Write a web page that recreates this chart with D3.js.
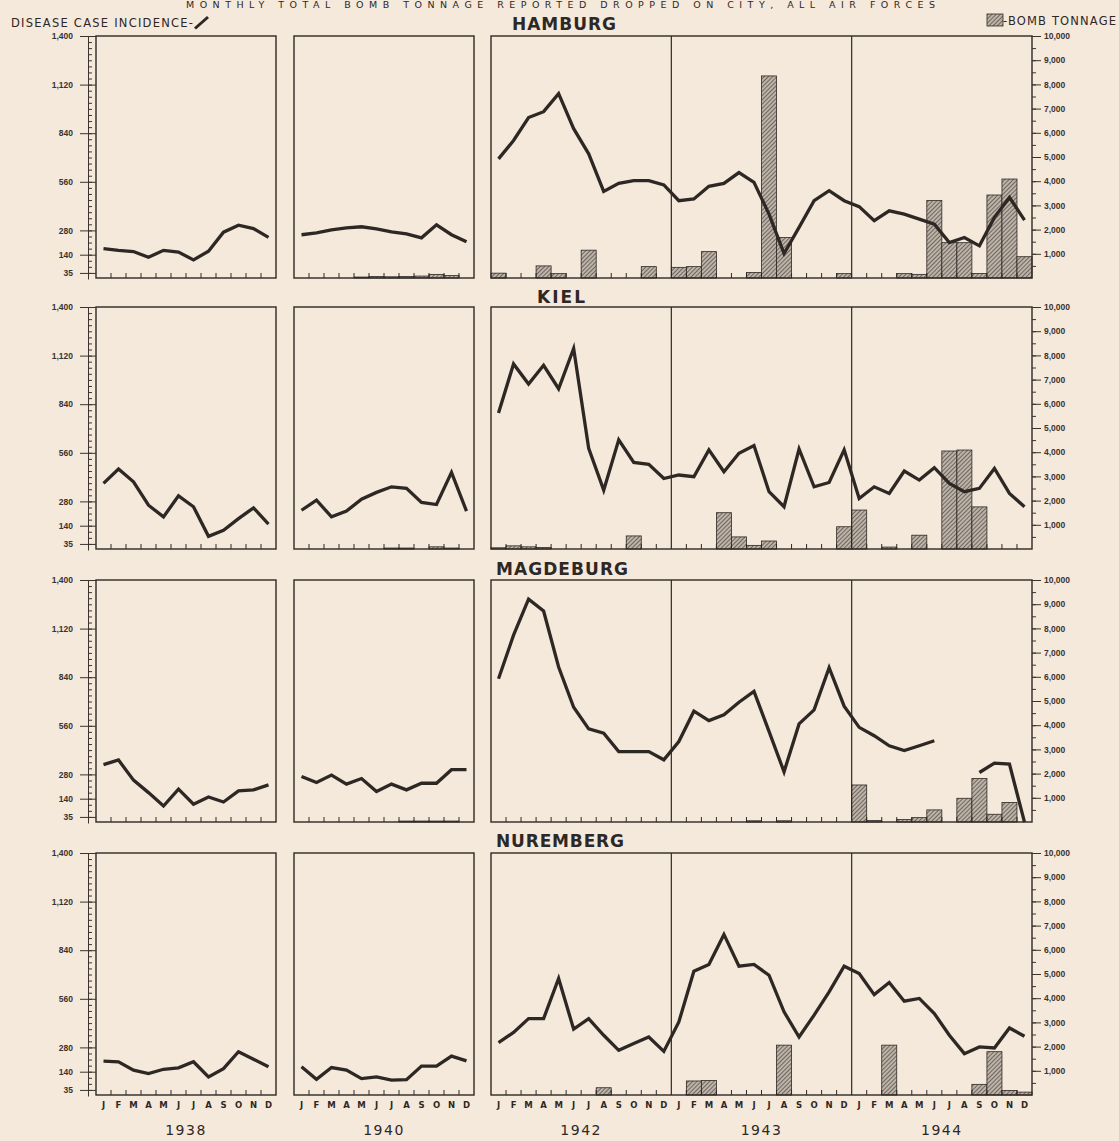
<!DOCTYPE html>
<html>
<head>
<meta charset="utf-8">
<title>Disease case incidence and bomb tonnage</title>
<script src="https://cdn.jsdelivr.net/npm/d3@7"></script>
<style>
html, body { margin: 0; padding: 0; background: #f5e9dc; }
svg { display: block; }
.lbl { font-family: "DejaVu Sans", sans-serif; fill: #2e2824; }
.tick text { font-family: "Liberation Sans", sans-serif; font-size: 8.5px; font-weight: bold; fill: #3a332e; }
.tick line, .domain { stroke: #3a332e; }
</style>
</head>
<body>
<script>
// ---- data ----
const cities = ['HAMBURG', 'KIEL', 'MAGDEBURG', 'NUREMBERG'];
const monthLetters = ['J', 'F', 'M', 'A', 'M', 'J', 'J', 'A', 'S', 'O', 'N', 'D'];
const yearLabels = ['1938', '1940', '1942', '1943', '1944'];
const incidenceTicks = [35, 140, 280, 560, 840, 1120, 1400];
const tonnageTicks = [1000, 2000, 3000, 4000, 5000, 6000, 7000, 8000, 9000, 10000];

const hamburg1938 = [175, 165, 158, 125, 165, 155, 110, 160, 270, 310, 290, 240];
const hamburg1940 = [255, 266, 283, 295, 301, 289, 272, 260, 237, 312, 255, 214];
const hamburg1942to44 = [692, 798, 930, 964, 1068, 866, 721, 505, 551, 567, 567, 542,
                         451, 461, 534, 551, 613, 557, 374, 147, 297, 451, 509, 451,
                         417, 336, 393, 374, 345, 316, 210, 239, 191, 355, 470, 339];
const hamburgBombs1940 = [0, 0, 0, 0, 40, 60, 50, 60, 80, 150, 100, 0];
const hamburgBombs1942to44 = [200, 0, 0, 500, 180, 0, 1150, 0, 0, 0, 470, 0,
                              440, 470, 1090, 0, 0, 230, 8350, 1670, 0, 0, 0, 180,
                              0, 0, 0, 180, 150, 3200, 1460, 1460, 190, 3430, 4090, 880];

const kiel1938 = [384, 467, 393, 258, 191, 312, 249, 79, 114, 181, 243, 149];
const kiel1940 = [229, 287, 191, 224, 293, 332, 364, 355, 274, 262, 447, 224];
const kiel1942to44 = [789, 1072, 956, 1064, 929, 1161, 586, 345, 635, 505, 494, 412,
                      432, 422, 577, 451, 557, 602, 336, 249, 582, 364, 389, 577,
                      297, 364, 326, 455, 403, 474, 384, 336, 355, 470, 326, 249];
const kielBombs1940 = [0, 0, 0, 0, 0, 0, 40, 40, 0, 90, 40, 0];
const kielBombs1942to44 = [50, 130, 90, 60, 0, 0, 0, 0, 0, 540, 0, 0,
                           0, 0, 0, 1500, 500, 150, 330, 0, 0, 0, 0, 920,
                           1610, 0, 80, 0, 570, 0, 4050, 4090, 1740, 0, 0, 0];

const magdeburg1938 = [336, 363, 247, 175, 98, 195, 108, 150, 121, 185, 191, 220];
const magdeburg1940 = [268, 233, 276, 224, 256, 181, 224, 191, 229, 229, 307, 308];
const magdeburg1942to44 = [831, 1082, 1290, 1221, 899, 667, 542, 517, 411, 411, 411, 364,
                           469, 644, 590, 623, 696, 758, 528, 295, 571, 652, 895, 673,
                           551, 503, 445, 417, 445, 474, null, null, 291, 345, 339, 5];
const magdeburgBombs1940 = [0, 0, 0, 0, 0, 0, 0, 40, 40, 40, 40, 0];
const magdeburgBombs1942to44 = [0, 0, 0, 0, 0, 0, 0, 0, 0, 0, 0, 0,
                                0, 0, 0, 0, 0, 50, 0, 50, 0, 0, 0, 0,
                                1530, 60, 0, 100, 180, 500, 0, 980, 1800, 320, 810, 0];

const nuremberg1938 = [201, 197, 149, 129, 154, 162, 197, 110, 158, 255, 212, 168];
const nuremberg1940 = [168, 96, 164, 149, 100, 110, 91, 94, 172, 172, 230, 202];
const nuremberg1942to44 = [308, 366, 446, 446, 677, 385, 446, 350, 263, 302, 340, 257,
                           427, 719, 758, 931, 748, 758, 696, 485, 340, 466, 600, 748,
                           706, 584, 654, 546, 562, 475, 350, 244, 283, 277, 392, 344];
const nurembergBombs1940 = [0, 0, 0, 0, 0, 0, 0, 0, 0, 0, 0, 0];
const nurembergBombs1942to44 = [0, 0, 0, 0, 0, 0, 0, 300, 0, 0, 0, 0,
                                0, 580, 600, 0, 0, 0, 0, 2060, 0, 0, 0, 0,
                                0, 0, 2060, 0, 0, 0, 0, 0, 440, 1790, 190, 120];

const noBombs = [0, 0, 0, 0, 0, 0, 0, 0, 0, 0, 0, 0];

const rows = [
    [[hamburg1938, noBombs], [hamburg1940, hamburgBombs1940], [hamburg1942to44, hamburgBombs1942to44]],
    [[kiel1938, noBombs], [kiel1940, kielBombs1940], [kiel1942to44, kielBombs1942to44]],
    [[magdeburg1938, noBombs], [magdeburg1940, magdeburgBombs1940], [magdeburg1942to44, magdeburgBombs1942to44]],
    [[nuremberg1938, noBombs], [nuremberg1940, nurembergBombs1940], [nuremberg1942to44, nurembergBombs1942to44]]
];

// ---- layout ----
let width = 1119, height = 1141;
let rowTop = [36, 307, 580, 853], rowH = 242;
let panelSpan = [[96, 276], [294, 474], [491, 1032]];
let titlePos = [[512, 30, 104], [537, 303, 48], [496, 575, 132], [496, 847, 128]];
let ink = '#2e2824';

let svg = d3.select('body').append('svg').attr('width', width).attr('height', height);
svg.append('rect').attr('width', width).attr('height', height).attr('fill', '#f5e9dc');

let pat = svg.append('defs').append('pattern').attr('id', 'hatch')
    .attr('patternUnits', 'userSpaceOnUse').attr('width', 3).attr('height', 3)
    .attr('patternTransform', 'rotate(45)');
pat.append('rect').attr('width', 3).attr('height', 3).attr('fill', '#bdb3a8');
pat.append('line').attr('x1', 0).attr('y1', 0).attr('x2', 0).attr('y2', 3)
    .attr('stroke', '#3a332e').attr('stroke-width', 1.2);

// top title and legends
svg.append('text').attr('class', 'lbl').attr('x', 186).attr('y', 8)
    .attr('font-size', 9.5).attr('textLength', 749).attr('lengthAdjust', 'spacing')
    .text('MONTHLY TOTAL BOMB TONNAGE REPORTED DROPPED ON CITY, ALL AIR FORCES');
svg.append('text').attr('class', 'lbl').attr('x', 11).attr('y', 27)
    .attr('font-size', 11.5).attr('textLength', 182).attr('lengthAdjust', 'spacing')
    .text('DISEASE CASE INCIDENCE-');
svg.append('line').attr('x1', 195).attr('y1', 28.5).attr('x2', 208).attr('y2', 17)
    .attr('stroke', ink).attr('stroke-width', 3);
svg.append('rect').attr('x', 987).attr('y', 14).attr('width', 16).attr('height', 12)
    .attr('fill', 'url(#hatch)').attr('stroke', ink).attr('stroke-width', 0.8);
svg.append('text').attr('class', 'lbl').attr('x', 1003).attr('y', 25)
    .attr('font-size', 11.5).attr('textLength', 113).attr('lengthAdjust', 'spacing')
    .text('-BOMB TONNAGE');

rows.forEach((row, r) => {
    let top = rowTop[r], bottom = top + rowH;
    let yInc = d3.scaleLinear().domain([0, 1400]).range([bottom + 1, top]);
    let yTon = d3.scaleLinear().domain([0, 10000]).range([bottom, top]);
    let g = svg.append('g');

    g.append('text').attr('class', 'lbl').attr('x', titlePos[r][0]).attr('y', titlePos[r][1])
        .attr('font-size', 17).attr('font-weight', 'bold')
        .attr('textLength', titlePos[r][2]).attr('lengthAdjust', 'spacing')
        .text(cities[r]);

    row.forEach(([inc, bombs], k) => {
        let x = d3.scaleBand().domain(d3.range(inc.length)).range(panelSpan[k]);
        let bw = x.bandwidth();

        g.append('g').selectAll('rect')
            .data(bombs.map((v, i) => ({v, i})).filter(d => d.v > 0)).enter()
            .append('rect')
            .attr('x', d => x(d.i)).attr('width', bw)
            .attr('y', d => yTon(d.v)).attr('height', d => bottom - yTon(d.v))
            .attr('fill', 'url(#hatch)').attr('stroke', ink).attr('stroke-width', 0.8);

        g.append('rect').attr('x', panelSpan[k][0]).attr('y', top)
            .attr('width', panelSpan[k][1] - panelSpan[k][0]).attr('height', rowH)
            .attr('fill', 'none').attr('stroke', ink).attr('stroke-width', 1.4);

        // month ticks along the bottom
        g.append('g').selectAll('line')
            .data(d3.range(1, inc.length).filter(i => i % 12 !== 0)).enter()
            .append('line')
            .attr('x1', i => x(i)).attr('x2', i => x(i))
            .attr('y1', bottom).attr('y2', bottom - 5)
            .attr('stroke', ink).attr('stroke-width', 1);

        // year dividers in the wide panel
        g.append('g').selectAll('line')
            .data(d3.range(12, inc.length, 12)).enter()
            .append('line')
            .attr('x1', i => x(i)).attr('x2', i => x(i))
            .attr('y1', top).attr('y2', bottom)
            .attr('stroke', ink).attr('stroke-width', 1.2);

        g.append('path').datum(inc)
            .attr('d', d3.line().defined(v => v != null)
                .x((v, i) => x(i) + bw / 2).y(v => yInc(v)))
            .attr('fill', 'none').attr('stroke', ink).attr('stroke-width', 3.3)
            .attr('stroke-linejoin', 'miter');

        if (r === rows.length - 1) {
            g.append('g').selectAll('text').data(inc).enter()
                .append('text').attr('class', 'lbl')
                .attr('x', (v, i) => x(i) + bw / 2).attr('y', bottom + 13)
                .attr('text-anchor', 'middle').attr('font-size', 8.5).attr('font-weight', 'bold')
                .text((v, i) => monthLetters[i % 12]);
            d3.range(inc.length / 12).forEach(j => {
                g.append('text').attr('class', 'lbl')
                    .attr('x', (x(j * 12) + x(j * 12 + 11) + bw) / 2).attr('y', 1135)
                    .attr('text-anchor', 'middle').attr('font-size', 14).attr('letter-spacing', 1.5)
                    .text(yearLabels[k === 2 ? 2 + j : k]);
            });
        }
    });

    // left axis (incidence)
    g.append('g').attr('transform', 'translate(88,0)')
        .call(d3.axisLeft(yInc).tickValues(d3.range(35, 1401, 35)).tickSize(-4).tickSizeOuter(0).tickFormat(''));
    g.append('g').attr('transform', 'translate(96,0)')
        .call(d3.axisLeft(yInc).tickValues(incidenceTicks).tickSize(16).tickPadding(7).tickFormat(d3.format(',')))
        .call(a => a.select('.domain').remove());

    // right axis (bomb tonnage)
    g.append('g').attr('transform', 'translate(1032,0)')
        .call(d3.axisRight(yTon).tickValues(d3.range(500, 10001, 500)).tickSize(4).tickFormat(''))
        .call(a => a.select('.domain').remove());
    g.append('g').attr('transform', 'translate(1032,0)')
        .call(d3.axisRight(yTon).tickValues(tonnageTicks).tickSize(9).tickPadding(3).tickFormat(d3.format(',')))
        .call(a => a.select('.domain').remove());
});
</script>
</body>
</html>
